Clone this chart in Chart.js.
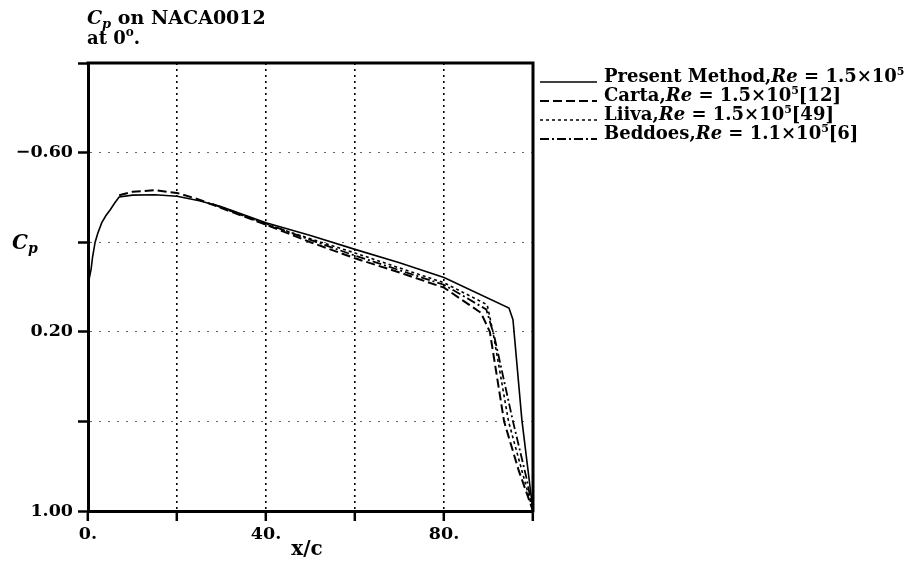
<!DOCTYPE html>
<html>
<head>
<meta charset="utf-8">
<script src="https://cdn.jsdelivr.net/npm/chart.js@4.4.1/dist/chart.umd.min.js"></script>
<style>
  html, body { margin: 0; padding: 0; background: #fff; }
  #wrap { width: 922px; height: 562px; position: relative; }
</style>
</head>
<body>
<div id="wrap"><canvas id="cp" width="922" height="562"></canvas></div>
<script>
// Pressure coefficient along the NACA0012 chord (x/c in %), Cp axis reversed.
const presentX  = [0, 0.3, 0.7, 1.0, 1.6, 2.2, 3.1, 4, 5, 6, 7, 10, 15, 20, 25, 30, 40, 50, 60, 70, 80, 94.6, 95.5, 97.5, 100];
const presentCp = [0.0, -0.04, -0.08, -0.13, -0.2, -0.24, -0.287, -0.318, -0.345, -0.375, -0.402, -0.41, -0.412, -0.405, -0.385, -0.358, -0.287, -0.23, -0.168, -0.108, -0.042, 0.094, 0.146, 0.593, 1.0];

const cartaX  = [7, 10, 15, 20, 25, 30, 40, 50, 60, 70, 80, 88.3, 90.3, 93.5, 96.8, 100];
const cartaCp = [-0.41, -0.425, -0.432, -0.42, -0.39, -0.352, -0.278, -0.2, -0.128, -0.065, 0.003, 0.115, 0.2, 0.6, 0.82, 1.0];

const liivaX  = [28, 40, 50, 60, 70, 80, 89.7, 91, 94.5, 97.5, 100];
const liivaCp = [-0.37, -0.28, -0.215, -0.152, -0.085, -0.019, 0.079, 0.2, 0.6, 0.82, 1.0];

const beddoesX  = [28, 40, 50, 60, 70, 80, 89.5, 91.3, 95.5, 98.5, 100];
const beddoesCp = [-0.37, -0.283, -0.21, -0.14, -0.075, -0.01, 0.1, 0.22, 0.6, 0.85, 1.0];

const xTickValues = [0, 20, 40, 60, 80, 100];
const xTickLabels = { 0: '0.', 40: '40.', 80: '80.' };
const yTickValues = [-1.0, -0.6, -0.2, 0.2, 0.6, 1.0];
const yTickLabels = { '-0.6': '\u22120.60', '0.2': '0.20', '1': '1.00' };

const legendRows = [
  { name: 'Present Method,', re: '1.5', ref: '' },
  { name: 'Carta,', re: '1.5', ref: '[12]' },
  { name: 'Liiva,', re: '1.5', ref: '[49]' },
  { name: 'Beddoes,', re: '1.1', ref: '[6]' }
];

const FONT = '"DejaVu Serif", serif';
const SERIES_STYLE = [
  { dash: [], width: 1.6 },
  { dash: [9, 4], width: 2 },
  { dash: [3, 3], width: 1.6 },
  { dash: [9, 3, 2, 3], width: 1.8 }
];

function pairs(xs, ys) { return xs.map((x, i) => ({ x: x, y: ys[i] })); }

const datasets = [
  pairs(presentX, presentCp),
  pairs(cartaX, cartaCp),
  pairs(liivaX, liivaCp),
  pairs(beddoesX, beddoesCp)
].map((d, i) => ({
  data: d,
  borderColor: '#000',
  borderWidth: SERIES_STYLE[i].width,
  borderDash: SERIES_STYLE[i].dash,
  pointRadius: 0,
  tension: 0,
  fill: false
}));

// Rich text: segments of [text, style, size, dy]
function drawRich(ctx, x, y, segs) {
  let cx = x;
  segs.forEach(s => {
    const [txt, style, size, dy] = s;
    ctx.font = style + ' ' + size + 'px ' + FONT;
    ctx.fillText(txt, cx, y + (dy || 0));
    cx += ctx.measureText(txt).width;
  });
  return cx;
}

const framePlugin = {
  id: 'frame',
  afterDraw(chart) {
    const { ctx, chartArea: a } = chart;
    ctx.save();
    ctx.strokeStyle = '#000';
    ctx.lineWidth = 3;
    ctx.beginPath();
    ctx.moveTo(a.left - 1.5, a.top);
    ctx.lineTo(a.right, a.top);
    ctx.lineTo(a.right, a.bottom + 1.5);
    ctx.stroke();
    ctx.restore();
  }
};

const textPlugin = {
  id: 'annotText',
  afterDraw(chart) {
    const { ctx, chartArea: a } = chart;
    ctx.save();
    ctx.fillStyle = '#000';
    ctx.textBaseline = 'alphabetic';
    ctx.textAlign = 'left';

    // Title
    drawRich(ctx, a.left - 1, 24, [
      ['C', 'italic bold', 19, 0],
      ['p', 'italic bold', 13, 4],
      [' on NACA0012', 'bold', 19, 0]
    ]);
    drawRich(ctx, a.left - 1, 44, [
      ['at 0', 'bold', 18, 0],
      ['o', 'bold', 12, -8],
      ['.', 'bold', 18, 0]
    ]);

    // Axis titles
    drawRich(ctx, 12, 249, [
      ['C', 'italic bold', 20, 0],
      ['p', 'italic bold', 14, 4]
    ]);
    ctx.font = 'bold 20px ' + FONT;
    ctx.textAlign = 'center';
    ctx.fillText('x/c', 307, 555);
    ctx.textAlign = 'left';

    // Legend
    const lx0 = 540, lx1 = 597, tx = 604;
    legendRows.forEach((r, i) => {
      const by = 82 + i * 19;
      ctx.save();
      ctx.lineWidth = SERIES_STYLE[i].width;
      ctx.setLineDash(SERIES_STYLE[i].dash);
      ctx.beginPath();
      ctx.moveTo(lx0, by);
      ctx.lineTo(lx1, by);
      ctx.stroke();
      ctx.restore();
      const segs = [
        [r.name, 'bold', 18, 0],
        ['Re', 'italic bold', 18, 0],
        [' = ' + r.re + '\u00d710', 'bold', 18, 0],
        ['5', 'bold', 11, -7]
      ];
      if (r.ref) segs.push([r.ref, 'bold', 18, 0]);
      drawRich(ctx, tx, by, segs);
    });
    ctx.restore();
  }
};

new Chart(document.getElementById('cp'), {
  type: 'line',
  data: { datasets: datasets },
  options: {
    responsive: false,
    animation: false,
    layout: { padding: { top: 63, right: 389, left: 0, bottom: 0 } },
    plugins: { legend: { display: false }, tooltip: { enabled: false }, title: { display: false } },
    scales: {
      x: {
        type: 'linear',
        min: 0, max: 100,
        afterBuildTicks: s => { s.ticks = xTickValues.map(v => ({ value: v })); },
        afterFit: s => { s.height = 51; },
        ticks: {
          autoSkip: false, maxRotation: 0, padding: 3,
          color: '#000',
          font: { family: FONT, size: 17.5, weight: 'bold' },
          callback: v => (xTickLabels[v] !== undefined ? xTickLabels[v] : '')
        },
        grid: {
          color: c => (c.tick && (c.tick.value === 0 || c.tick.value === 100) ? 'rgba(0,0,0,0)' : '#000'),
          lineWidth: 1.6,
          tickColor: '#000',
          tickWidth: 2.5,
          tickLength: 10,
          tickBorderDash: []
        },
        border: { display: true, color: '#000', width: 3, dash: [2, 4] }
      },
      y: {
        type: 'linear',
        min: -1, max: 1,
        reverse: true,
        afterBuildTicks: s => { s.ticks = yTickValues.map(v => ({ value: v })); },
        afterFit: s => { s.width = 88; },
        ticks: {
          autoSkip: false, padding: 5,
          color: '#000',
          font: { family: FONT, size: 17.5, weight: 'bold' },
          callback: v => {
            const k = String(Math.round(v * 10) / 10);
            return yTickLabels[k] !== undefined ? yTickLabels[k] : '';
          }
        },
        grid: {
          color: c => (c.tick && (Math.abs(c.tick.value) > 0.99) ? 'rgba(0,0,0,0)' : '#666'),
          lineWidth: 1,
          tickColor: '#000',
          tickWidth: 2.5,
          tickLength: 10,
          tickBorderDash: []
        },
        border: { display: true, color: '#000', width: 3, dash: [2, 7] }
      }
    }
  },
  plugins: [framePlugin, textPlugin]
});
</script>
</body>
</html>
